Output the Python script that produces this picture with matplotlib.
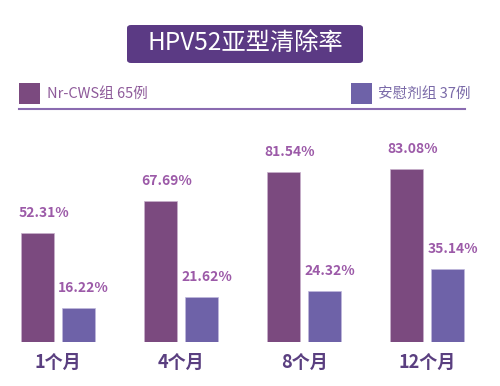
import numpy as np
import matplotlib
matplotlib.use('Agg')
import matplotlib.pyplot as plt
from matplotlib.patches import Rectangle, FancyBboxPatch

plt.rcParams['font.family'] = ['Noto Sans CJK SC', 'DejaVu Sans']

# data
months = ['1个月', '4个月', '8个月', '12个月']
nr_cws = [52.31, 67.69, 81.54, 83.08]
placebo = [16.22, 21.62, 24.32, 35.14]
title = 'HPV52亚型清除率'
legend_labels = ['Nr-CWS组 65例', '安慰剂组 37例']

c_purple = '#7b4a7f'
c_blue = '#6e62a8'
c_label = '#9c5aa8'
c_dark = '#5a3f80'

W, H = 500, 386
fig = plt.figure(figsize=(5, 3.86), dpi=100)
fig.patch.set_facecolor('white')

def fx(px):
    return px / W

def fy(py):
    # py measured from top
    return 1 - py / H

# title box
fig.add_artist(FancyBboxPatch((fx(127), fy(63)), fx(236), 38 / H,
                              boxstyle='round,pad=0,rounding_size=0.008',
                              transform=fig.transFigure, facecolor='#5b3a84',
                              edgecolor='none'))
fig.text(fx(245), fy(44), title, color='white', fontsize=17.5,
         ha='center', va='center')

# legend
fig.add_artist(Rectangle((fx(19), fy(104)), fx(21), 21 / H,
                         transform=fig.transFigure, facecolor=c_purple, edgecolor='none'))
fig.text(fx(47), fy(94), legend_labels[0], color='#8e5a9a', fontsize=10.5,
         ha='left', va='center')
fig.add_artist(Rectangle((fx(351), fy(104)), fx(21), 21 / H,
                         transform=fig.transFigure, facecolor=c_blue, edgecolor='none'))
fig.text(fx(378), fy(94), legend_labels[1], color='#7a6aa8', fontsize=10.5,
         ha='left', va='center')
fig.add_artist(plt.Line2D([fx(19), fx(465)], [fy(109), fy(109)],
                          transform=fig.transFigure, color='#8a6bb0', lw=1.5))

# bars
ax = fig.add_axes([0, 44 / H, 1, 208 / H])
ax.set_xlim(-58 / 123, (W - 58) / 123)
ax.set_ylim(0, 100)
ax.axis('off')

x = np.arange(len(months))
bw = 33 / 123
off = 20.5 / 123
ax.bar(x - off, nr_cws, bw, color=c_purple, edgecolor='#c8b0cc', linewidth=0.5)
ax.bar(x + off, placebo, bw, color=c_blue, edgecolor='#c0b8dc', linewidth=0.5)

for xi, v in zip(x - off, nr_cws):
    ax.annotate(f'{v:.2f}%', (xi, v), xytext=(6, 13), textcoords='offset pixels',
                ha='center', va='bottom', color=c_label, fontsize=10, weight='bold')
for xi, v in zip(x + off, placebo):
    ax.annotate(f'{v:.2f}%', (xi, v), xytext=(5, 13), textcoords='offset pixels',
                ha='center', va='bottom', color=c_label, fontsize=10, weight='bold')

for xi, m in zip(x, months):
    ax.annotate(m, (xi, 0), xytext=(0, -20), textcoords='offset pixels',
                ha='center', va='center', color=c_dark, fontsize=13, weight='bold')

plt.savefig('out.png', dpi=100)
